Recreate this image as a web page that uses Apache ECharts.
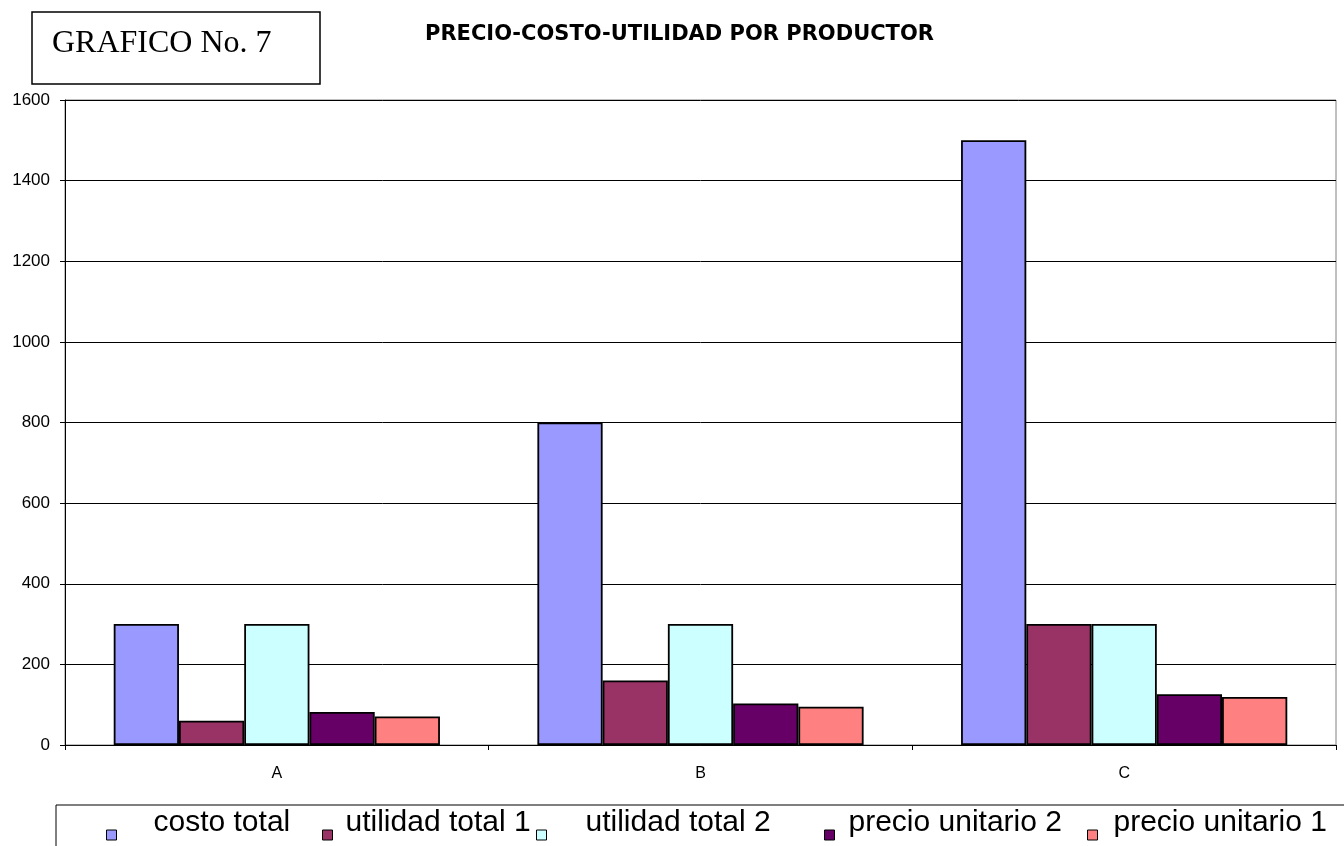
<!DOCTYPE html>
<html>
<head>
<meta charset="utf-8">
<script src="https://cdn.jsdelivr.net/npm/echarts@6/dist/echarts.min.js"></script>
<style>html,body{margin:0;padding:0;background:#fff;}#c{width:1344px;height:846px;}</style>
</head>
<body>
<div id="c"></div>
<script>
const categories = ['A', 'B', 'C'];
const costoTotal = [300, 800, 1500];
const utilidadTotal1 = [60, 160, 300];
const utilidadTotal2 = [300, 300, 300];
const precioUnitario2 = [82, 103, 126];
const precioUnitario1 = [71, 95, 119];
const seriesNames = ['costo total', 'utilidad total 1', 'utilidad total 2', 'precio unitario 2', 'precio unitario 1'];
const seriesData = [costoTotal, utilidadTotal1, utilidadTotal2, precioUnitario2, precioUnitario1];
const colors = ['#9999FF', '#993366', '#CCFFFF', '#660066', '#FF8080'];
const yTicks = {min: 0, max: 1600, interval: 200};

const legendLeft = [106, 322, 536, 824, 1087];
const legendPad = [32, 8, 34, 9, 11];

const chart = echarts.init(document.getElementById('c'));
const legends = seriesNames.map((n, i) => ({
  data: [n],
  left: legendLeft[i],
  top: 808,
  orient: 'horizontal',
  padding: 0,
  itemWidth: 10,
  itemHeight: 10,
  icon: 'rect',
  selectedMode: false,
  itemStyle: {borderColor: '#000', borderWidth: 1},
  formatter: '{t|{name}}',
  textStyle: {
    fontFamily: 'Liberation Sans, Arial', fontSize: 30, color: '#000',
    rich: {t: {fontFamily: 'Liberation Sans, Arial', fontSize: 30, color: '#000', padding: [0, 0, 24, legendPad[i]]}}
  }
}));

chart.setOption({
  animation: false,
  backgroundColor: '#fff',
  color: colors,
  title: {
    text: 'PRECIO-COSTO-UTILIDAD POR PRODUCTOR',
    left: 425, top: 24, padding: 0,
    textStyle: {fontFamily: 'DejaVu Sans', fontWeight: 'bold', fontSize: 21, color: '#000'}
  },
  legend: legends,
  grid: {left: 65, right: 8, top: 100, bottom: 101, show: true, borderColor: '#808080', borderWidth: 1},
  xAxis: {
    type: 'category',
    data: categories,
    axisLine: {lineStyle: {color: '#000', width: 1}},
    axisTick: {show: true, length: 5, alignWithLabel: false, lineStyle: {color: '#000'}},
    axisLabel: {color: '#000', fontFamily: 'Liberation Sans, Arial', fontSize: 16, margin: 21},
    splitLine: {show: false}
  },
  yAxis: {
    type: 'value',
    min: yTicks.min, max: yTicks.max, interval: yTicks.interval,
    axisLine: {show: true, lineStyle: {color: '#000', width: 1}},
    axisTick: {show: true, length: 5, lineStyle: {color: '#000'}},
    axisLabel: {color: '#000', fontFamily: 'Liberation Sans, Arial', fontSize: 17, margin: 15, formatter: v => String(v)},
    splitLine: {show: true, lineStyle: {color: '#000', width: 1}}
  },
  series: seriesNames.map((n, i) => ({
    name: n,
    type: 'bar',
    data: seriesData[i],
    barGap: '0%',
    barCategoryGap: '23%',
    itemStyle: {color: colors[i], borderColor: '#000', borderWidth: 1.8}
  })),
  graphic: [
    {type: 'rect', shape: {x: 32, y: 12, width: 288, height: 72}, style: {fill: 'none', stroke: '#000', lineWidth: 1.5}},
    {type: 'text', x: 52, y: 44, style: {text: 'GRAFICO No. 7', fontFamily: 'Liberation Serif, Times New Roman', fontSize: 32, fill: '#000', verticalAlign: 'middle'}},
    {type: 'polyline', shape: {points: [[1344, 805], [56, 805], [56, 846]]}, style: {stroke: '#000', lineWidth: 1, fill: 'none'}}
  ]
});
</script>
</body>
</html>
